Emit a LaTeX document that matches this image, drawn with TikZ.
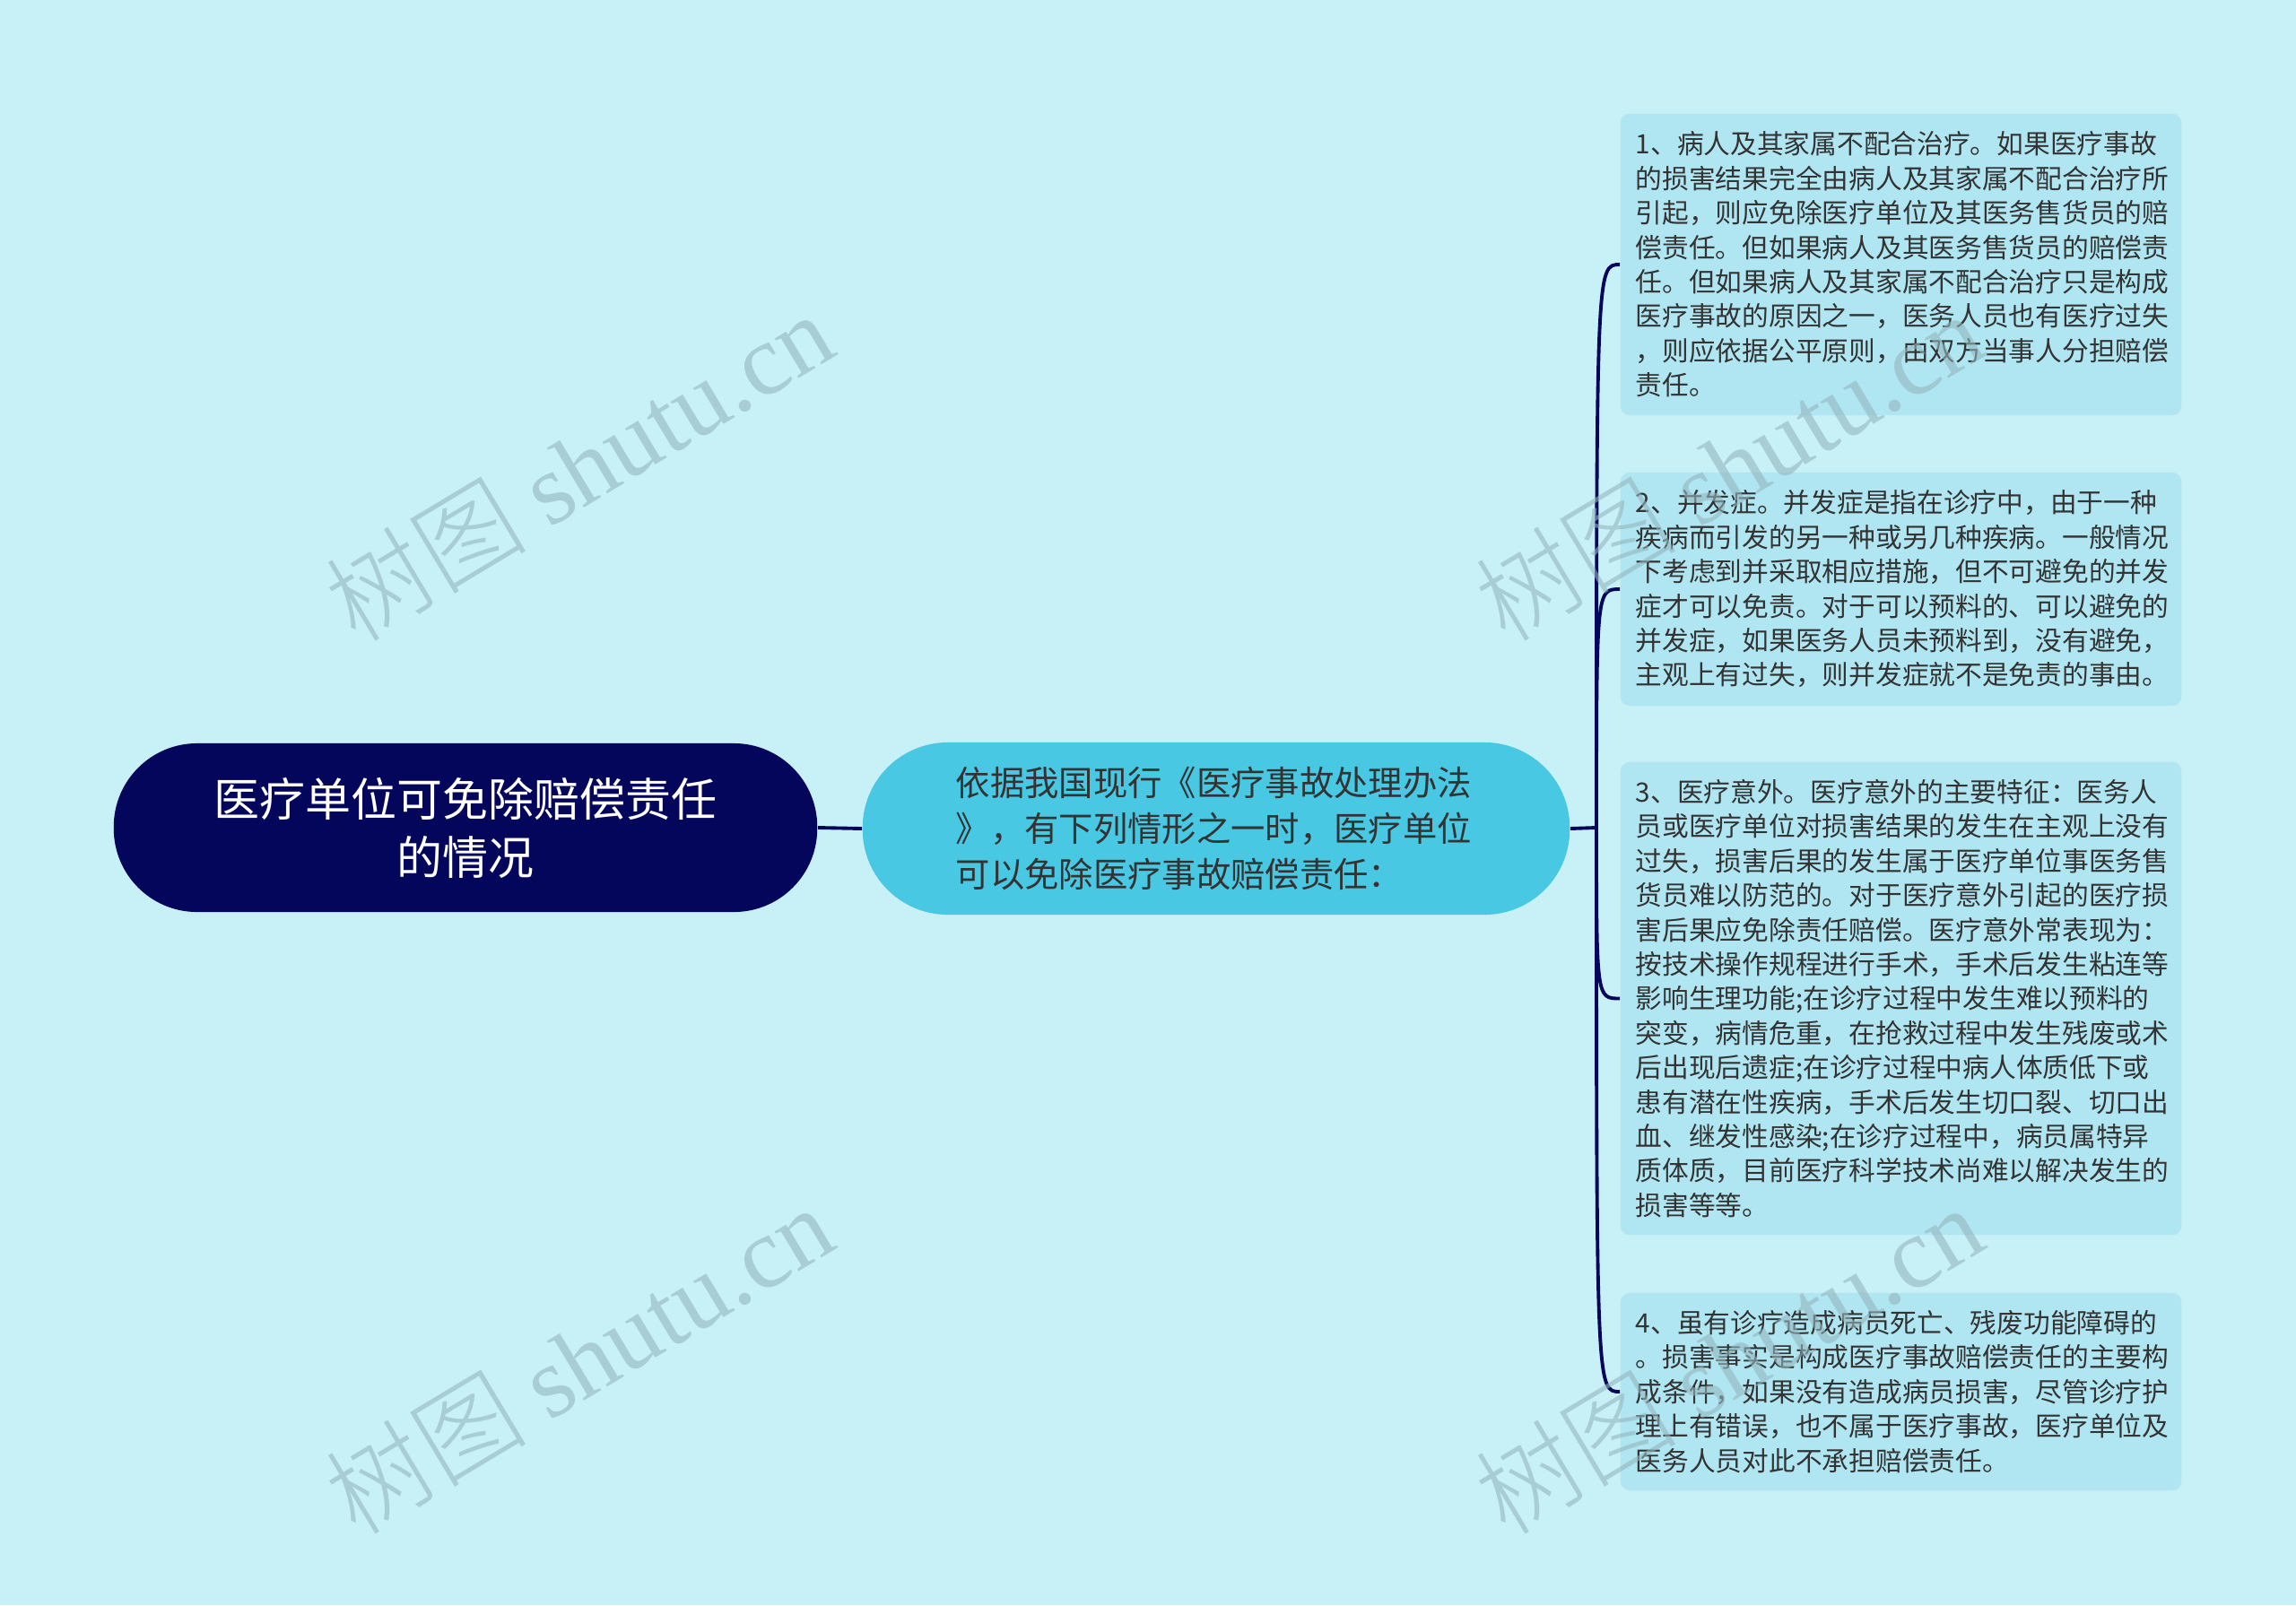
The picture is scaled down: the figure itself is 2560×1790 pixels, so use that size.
\documentclass[tikz,border=0pt]{standalone}
\usepackage{fontspec}
\setmainfont{Noto Sans CJK SC}
\newfontfamily\wmserif{Liberation Serif}
\newfontfamily\wmcjk{Noto Sans CJK SC Light}
\definecolor{bgcol}{HTML}{C8F0F7}
\definecolor{navy}{HTML}{04065C}
\definecolor{midcol}{HTML}{48C8E2}
\definecolor{boxcol}{HTML}{B0E6F2}
\definecolor{txtdark}{HTML}{333333}
\definecolor{wmcol}{HTML}{93B6BD}
\begin{document}
\begin{tikzpicture}[x=0.01cm, y=-0.01cm,
  conn/.style={draw=navy, line width=1.1pt},
  rootnode/.style={fill=navy, rounded corners=0.93cm, minimum width=7.84cm, minimum height=1.88cm,
    text=white, align=center, inner sep=0pt, font=\fontsize{14.5pt}{18.5pt}\selectfont},
  midnode/.style={fill=midcol, rounded corners=0.95cm, minimum width=7.88cm, minimum height=1.92cm,
    text=txtdark, align=left, text width=5.8cm, inner sep=0pt, font=\fontsize{10.9pt}{14.5pt}\selectfont},
  leafbox/.style={fill=boxcol, rounded corners=0.1cm, minimum width=6.25cm, text width=5.91cm,
    inner xsep=0.17cm, inner ysep=0pt, align=left, text=txtdark, font=\fontsize{8.45pt}{10.92pt}\selectfont},
  wm/.style={text=wmcol, text opacity=0.6, rotate=31, inner sep=0pt, font=\fontsize{32pt}{38pt}\selectfont}
]
\fill[bgcol] (0,0) rectangle (2560,1790);
\useasboundingbox (0,0) rectangle (2560,1790);

\node[rootnode] (root) at (519,923) {医疗单位可免除赔偿责任\\的情况};
\node[midnode] (mid) at (1356,924) {依据我国现行《医疗事故处理办法\\》，有下列情形之一时，医疗单位\\可以免除医疗事故赔偿责任：};

\node[leafbox, minimum height=3.36cm] (b1) at (2119.5,295) {1、病人及其家属不配合治疗。如果医疗事故\\的损害结果完全由病人及其家属不配合治疗所\\引起，则应免除医疗单位及其医务售货员的赔\\偿责任。但如果病人及其医务售货员的赔偿责\\任。但如果病人及其家属不配合治疗只是构成\\医疗事故的原因之一，医务人员也有医疗过失\\，则应依据公平原则，由双方当事人分担赔偿\\责任。};
\node[leafbox, minimum height=2.60cm] (b2) at (2119.5,657) {2、并发症。并发症是指在诊疗中，由于一种\\疾病而引发的另一种或另几种疾病。一般情况\\下考虑到并采取相应措施，但不可避免的并发\\症才可以免责。对于可以预料的、可以避免的\\并发症，如果医务人员未预料到，没有避免，\\主观上有过失，则并发症就不是免责的事由。};
\node[leafbox, minimum height=5.27cm] (b3) at (2119.5,1113.5) {3、医疗意外。医疗意外的主要特征：医务人\\员或医疗单位对损害结果的发生在主观上没有\\过失，损害后果的发生属于医疗单位事医务售\\货员难以防范的。对于医疗意外引起的医疗损\\害后果应免除责任赔偿。医疗意外常表现为：\\按技术操作规程进行手术，手术后发生粘连等\\影响生理功能;在诊疗过程中发生难以预料的\\突变，病情危重，在抢救过程中发生残废或术\\后出现后遗症;在诊疗过程中病人体质低下或\\患有潜在性疾病，手术后发生切口裂、切口出\\血、继发性感染;在诊疗过程中，病员属特异\\质体质，目前医疗科学技术尚难以解决发生的\\损害等等。};
\node[leafbox, minimum height=2.20cm] (b4) at (2119.5,1552) {4、虽有诊疗造成病员死亡、残废功能障碍的\\。损害事实是构成医疗事故赔偿责任的主要构\\成条件，如果没有造成病员损害，尽管诊疗护\\理上有错误，也不属于医疗事故，医疗单位及\\医务人员对此不承担赔偿责任。};

\coordinate (trunk) at (1780,923);
\draw[conn] (root.east) -- (mid.west);
\draw[conn] (mid.east) -- (trunk);
\draw[conn] (trunk) .. controls (trunk |- b1.west) .. (b1.west);
\draw[conn] (trunk) .. controls (trunk |- b2.west) .. (b2.west);
\draw[conn] (trunk) .. controls (trunk |- b3.west) .. (b3.west);
\draw[conn] (trunk) .. controls (trunk |- b4.west) .. (b4.west);

\node[wm] (w1) at (645,520) {{\wmcjk 树图} {\wmserif shutu.cn}};
\node[wm] (w2) at (645,1516) {{\wmcjk 树图} {\wmserif shutu.cn}};
\node[wm] (w3) at (1927,520) {{\wmcjk 树图} {\wmserif shutu.cn}};
\node[wm] (w4) at (1927,1516) {{\wmcjk 树图} {\wmserif shutu.cn}};
\end{tikzpicture}
\end{document}
